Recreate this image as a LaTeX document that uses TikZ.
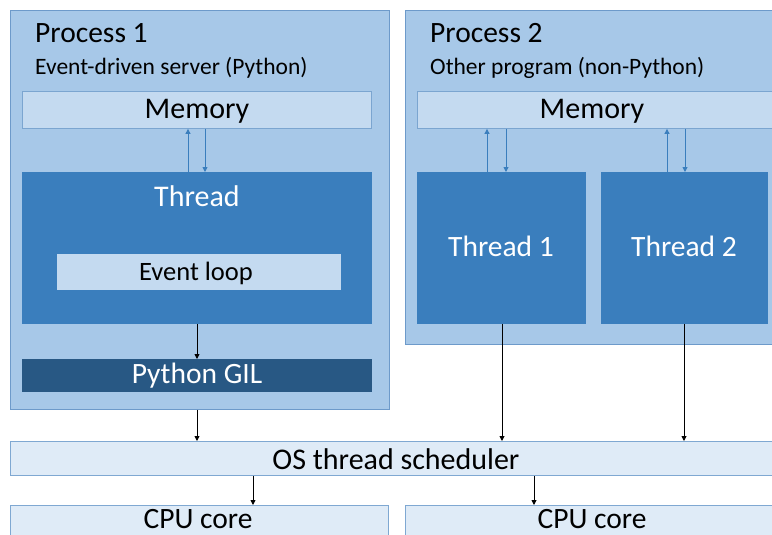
\documentclass[tikz,border=0pt]{standalone}
\usepackage{fontspec}
\setmainfont{Carlito}
\usetikzlibrary{arrows.meta}
\definecolor{procbg}{HTML}{A7C8E8}
\definecolor{procbd}{HTML}{6D9ACA}
\definecolor{membg}{HTML}{C4DAF0}
\definecolor{membd}{HTML}{7BA5D0}
\definecolor{thrbg}{HTML}{3A7EBD}
\definecolor{gilbg}{HTML}{285884}
\definecolor{osbg}{HTML}{DFEBF7}
\definecolor{osbd}{HTML}{7FA8D2}
\definecolor{arrblue}{HTML}{3A7EBD}
\tikzset{
  base/.style={rectangle, anchor=north west, inner sep=0pt, line width=0.9pt},
  procbox/.style={base, fill=procbg, draw=procbd},
  membox/.style={base, fill=membg, draw=membd},
  thrbox/.style={base, fill=thrbg, draw=thrbg},
  gilbox/.style={base, fill=gilbg, draw=gilbg},
  osbox/.style={base, fill=osbg, draw=osbd},
  lbl/.style={inner sep=0pt, anchor=base west},
  ctr/.style={inner sep=0pt, anchor=base, font=\fontsize{30}{32}\selectfont},
  wctr/.style={ctr, text=white},
  barr/.style={draw=arrblue, line width=0.9pt, -{Triangle[length=5pt,width=5pt]}},
  karr/.style={draw=black, line width=0.9pt, -{Triangle[length=5pt,width=5pt]}},
}
\begin{document}
\begin{tikzpicture}[x=1pt,y=-1pt]
\useasboundingbox (0,0) rectangle (772,535);
\clip (0,0) rectangle (772,535);
% Process 1
\node[procbox, minimum width=379pt, minimum height=399pt] (p1) at (10,10) {};
\node[lbl, font=\fontsize{29.5}{32}\selectfont] (p1t) at (35,43) {Process 1};
\node[lbl, font=\fontsize{23.5}{26}\selectfont] (p1s) at (35,75) {Event-driven server (Python)};
\node[membox, minimum width=349pt, minimum height=37pt] (m1) at (22,91) {};
\node[ctr] (m1l) at (197,118) {Memory};
\node[thrbox, minimum width=349pt, minimum height=151pt] (t1) at (22,172) {};
\node[wctr] (t1l) at (197,206) {Thread};
\node[base, fill=membg, draw=membg, minimum width=283pt, minimum height=35pt] (ev) at (57,254) {};
\node[ctr, font=\fontsize{26.5}{28}\selectfont] (evl) at (196,280) {Event loop};
\node[gilbox, minimum width=349pt, minimum height=32pt] (gil) at (22,359) {};
\node[wctr, font=\fontsize{29.5}{32}\selectfont] (gill) at (197,383) {Python GIL};
% Process 2
\node[procbox, minimum width=380pt, minimum height=334pt] (p2) at (405,10) {};
\node[lbl, font=\fontsize{29.5}{32}\selectfont] (p2t) at (430,43) {Process 2};
\node[lbl, font=\fontsize{23.5}{26}\selectfont] (p2s) at (430,75) {Other program (non-Python)};
\node[membox, minimum width=355pt, minimum height=37pt] (m2) at (417,91) {};
\node[ctr] (m2l) at (592,118) {Memory};
\node[thrbox, minimum width=168pt, minimum height=151pt] (ta) at (417,172) {};
\node[wctr, font=\fontsize{29.5}{32}\selectfont] (tal) at (501,256) {Thread 1};
\node[thrbox, minimum width=166pt, minimum height=151pt] (tb) at (601,172) {};
\node[wctr, font=\fontsize{29.5}{32}\selectfont] (tbl) at (684,256) {Thread 2};
% OS
\node[osbox, minimum width=780pt, minimum height=34pt] (os) at (10,441) {};
\node[ctr] (osl) at (396,469) {OS thread scheduler};
\node[osbox, minimum width=378pt, minimum height=50pt] (c1) at (10,505) {};
\node[ctr, font=\fontsize{29.5}{32}\selectfont] (c1l) at (198,528) {CPU core};
\node[osbox, minimum width=380pt, minimum height=50pt] (c2) at (405,505) {};
\node[ctr, font=\fontsize{29.5}{32}\selectfont] (c2l) at (592,528) {CPU core};
% memory arrows
\draw[barr] (t1.north -| 188,0) -- (m1.south -| 188,0);
\draw[barr] (m1.south -| 205,0) -- (t1.north -| 205,0);
\draw[barr] (ta.north -| 487,0) -- (m2.south -| 487,0);
\draw[barr] (m2.south -| 506,0) -- (ta.north -| 506,0);
\draw[barr] (tb.north -| 667,0) -- (m2.south -| 667,0);
\draw[barr] (m2.south -| 685,0) -- (tb.north -| 685,0);
% black arrows
\draw[karr] (t1.south -| 197,0) -- (gil.north -| 197,0);
\draw[karr] (p1.south -| 197,0) -- (os.north -| 197,0);
\draw[karr] (ta.south -| 502,0) -- (os.north -| 502,0);
\draw[karr] (tb.south -| 684,0) -- (os.north -| 684,0);
\draw[karr] (os.south -| 253,0) -- (c1.north -| 253,0);
\draw[karr] (os.south -| 534,0) -- (c2.north -| 534,0);
\end{tikzpicture}
\end{document}
